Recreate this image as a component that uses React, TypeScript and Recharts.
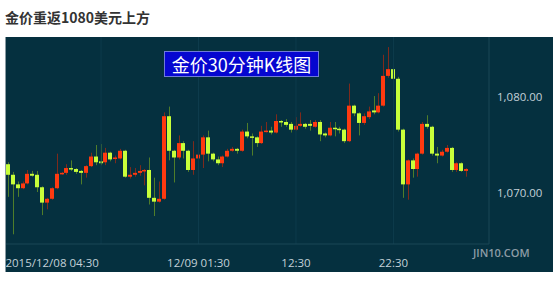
import React from "react";
import { ComposedChart, Bar, XAxis, YAxis, ReferenceLine } from "recharts";

// 30-minute gold candles
const opens = [
  1073.0, 1071.9, 1070.9, 1070.5, 1071.0, 1072.0, 1071.9, 1070.6, 1069.0, 1069.4,
  1070.5, 1072.0, 1072.1, 1072.6, 1072.5, 1072.3, 1072.1, 1072.8, 1073.8, 1073.3,
  1073.2, 1074.2, 1073.6, 1073.6, 1074.4, 1071.7, 1071.9, 1072.1, 1072.3, 1072.4,
  1069.5, 1069.1, 1069.4, 1078.0, 1074.4, 1073.7, 1075.2, 1074.4, 1072.4, 1073.6,
  1074.0, 1075.8, 1074.1, 1073.5, 1073.1, 1073.8, 1074.4, 1074.6, 1074.4, 1076.4,
  1075.9, 1075.8, 1075.2, 1076.4, 1076.5, 1076.3, 1077.5, 1077.4, 1077.2, 1076.6,
  1077.0, 1077.2, 1077.2, 1076.9, 1077.4, 1076.2, 1076.0, 1076.8, 1076.7, 1076.6,
  1075.4, 1079.1, 1078.3, 1077.3, 1077.9, 1078.6, 1078.4, 1079.1, 1082.2, 1082.9,
  1081.9, 1076.6, 1070.9, 1073.4, 1072.5, 1074.1, 1077.2, 1076.9, 1074.1, 1073.9,
  1074.3, 1074.7, 1072.4, 1073.1, 1072.3,
];
const highs = [
  1073.2, 1072.2, 1071.2, 1071.2, 1072.4, 1072.3, 1072.3, 1070.7, 1069.5, 1070.6,
  1074.1, 1072.2, 1073.0, 1073.4, 1072.6, 1072.4, 1072.9, 1074.2, 1075.0, 1075.1,
  1074.7, 1074.3, 1073.9, 1074.6, 1074.5, 1072.7, 1072.6, 1072.9, 1072.5, 1073.7,
  1071.6, 1071.2, 1078.4, 1079.0, 1074.5, 1076.0, 1075.4, 1074.5, 1075.4, 1074.3,
  1076.0, 1076.5, 1074.2, 1073.8, 1073.9, 1074.6, 1074.8, 1074.7, 1076.6, 1077.3,
  1076.2, 1075.9, 1077.0, 1077.4, 1076.9, 1078.2, 1077.6, 1077.7, 1077.4, 1077.9,
  1078.4, 1077.3, 1077.6, 1077.6, 1077.6, 1076.3, 1077.4, 1077.4, 1076.9, 1076.7,
  1081.4, 1079.2, 1078.4, 1078.3, 1079.0, 1080.1, 1080.4, 1084.4, 1085.2, 1083.0,
  1082.1, 1076.7, 1073.5, 1073.6, 1074.2, 1077.4, 1078.1, 1077.0, 1074.8, 1074.5,
  1075.0, 1074.8, 1073.2, 1073.2, 1072.6,
];
const lows = [
  1069.6, 1065.7, 1069.6, 1070.4, 1070.9, 1071.7, 1070.1, 1067.7, 1068.3, 1069.3,
  1070.4, 1071.9, 1071.9, 1072.3, 1072.0, 1070.9, 1071.6, 1072.7, 1072.9, 1072.9,
  1072.9, 1073.3, 1073.1, 1073.5, 1071.6, 1071.5, 1071.7, 1071.8, 1070.8, 1068.8,
  1067.6, 1069.0, 1069.3, 1073.4, 1071.1, 1073.5, 1073.6, 1072.2, 1071.9, 1072.6,
  1072.6, 1073.3, 1073.3, 1072.9, 1072.7, 1073.7, 1074.3, 1074.1, 1074.3, 1075.7,
  1073.9, 1074.8, 1075.1, 1076.3, 1076.1, 1076.2, 1076.9, 1076.9, 1076.3, 1076.5,
  1076.9, 1076.7, 1076.5, 1076.8, 1075.4, 1075.8, 1075.9, 1075.9, 1076.2, 1075.2,
  1075.3, 1078.0, 1076.0, 1077.1, 1077.7, 1078.2, 1078.3, 1079.0, 1082.0, 1080.0,
  1076.4, 1069.5, 1069.3, 1071.6, 1071.7, 1074.0, 1076.7, 1073.9, 1073.1, 1073.8,
  1074.2, 1072.2, 1072.2, 1072.2, 1071.7,
];
const closes = [
  1071.9, 1070.9, 1070.5, 1071.0, 1072.0, 1071.8, 1070.6, 1069.0, 1069.4, 1070.5,
  1072.0, 1072.1, 1072.6, 1072.5, 1072.2, 1072.1, 1072.8, 1073.8, 1073.2, 1073.1,
  1074.2, 1073.5, 1073.7, 1074.4, 1071.7, 1071.9, 1072.1, 1072.3, 1072.4, 1069.5,
  1069.1, 1069.4, 1078.0, 1074.4, 1073.7, 1075.2, 1074.4, 1072.4, 1073.6, 1074.0,
  1075.8, 1074.1, 1073.5, 1073.1, 1073.8, 1074.4, 1074.6, 1074.4, 1076.4, 1075.9,
  1075.8, 1075.2, 1076.4, 1076.5, 1076.3, 1077.5, 1077.4, 1077.1, 1076.6, 1077.0,
  1077.2, 1076.9, 1077.0, 1077.4, 1076.1, 1076.0, 1076.8, 1076.7, 1076.6, 1075.4,
  1079.1, 1078.3, 1077.3, 1078.0, 1078.5, 1078.4, 1079.1, 1082.2, 1082.9, 1081.9,
  1076.6, 1070.9, 1073.4, 1072.5, 1074.1, 1077.2, 1076.9, 1074.1, 1073.9, 1074.3,
  1074.7, 1072.4, 1073.1, 1072.3, 1072.5,
];

const xTickIdx = [0, 39, 59, 79];
const xTickLabels = ["2015/12/08 04:30", "12/09 01:30", "12:30", "22:30"];
const gridIdx = [19, 39, 59, 79];
const yTicks = [1070, 1080];

const data = opens.map((o, i) => ({
  i,
  open: o,
  high: highs[i],
  low: lows[i],
  close: closes[i],
}));

const BG = "#05303f";
const UP = "#ff3a10";
const DOWN = "#c8ff3a";
const UP_WICK = "#7e2a1c";
const DOWN_WICK = "#4f7d2a";
const AXIS_TEXT = "#c3d0d8";
const FONT = "'Open Sans', 'Noto Sans', sans-serif";

function Candle(props: any) {
  const { x, y, width, height, payload } = props;
  if (!payload || height == null) return null;
  const { open, close, high, low } = payload;
  const ratio = height / (high - low);
  const yOf = (p: number) => y + (high - p) * ratio;
  const up = close >= open;
  const cx = Math.round(x + width / 2) + 0.5;
  const top = yOf(Math.max(open, close));
  const bot = yOf(Math.min(open, close));
  return (
    <g>
      <line x1={cx} x2={cx} y1={y} y2={y + height} stroke={up ? UP_WICK : DOWN_WICK} strokeWidth={1} />
      <rect
        x={cx - 2.5}
        y={top}
        width={4}
        height={Math.max(1.5, bot - top)}
        fill={up ? UP : DOWN}
      />
    </g>
  );
}

function XTick(props: any) {
  const { x, y, payload } = props;
  const k = xTickIdx.indexOf(payload.value);
  const first = k === 0;
  return (
    <text
      x={first ? x - 3 : x}
      y={y}
      dy={15}
      textAnchor={first ? "start" : "middle"}
      fill={AXIS_TEXT}
      fontSize={11.5}
      fontFamily={FONT}
    >
      {xTickLabels[k]}
    </text>
  );
}

export default function App() {
  return (
    <div style={{ position: "absolute", left: 0, top: 0, width: 554, height: 283, background: "#fff" }}>
      <div
        style={{
          position: "absolute",
          left: 5,
          top: 7,
          fontFamily: "'Noto Sans CJK SC', sans-serif",
          fontWeight: 700,
          fontSize: 14,
          color: "#333",
        }}
      >
        金价重返1080美元上方
      </div>
      <div
        style={{
          position: "absolute",
          left: 5,
          top: 37,
          width: 547,
          height: 235,
          background: BG,
          borderLeft: "1px solid #8a9ba3",
        }}
      >
        <ComposedChart
          width={547}
          height={235}
          data={data}
          margin={{ top: 0, right: 0, left: 0, bottom: 0 }}
        >
          {gridIdx.map((g) => (
            <ReferenceLine key={g} x={g} stroke="#0d3b4c" strokeWidth={1} />
          ))}
          <XAxis
            dataKey="i"
            type="category"
            ticks={xTickIdx}
            interval={0}
            height={28}
            padding={{ left: 0, right: 20 }}
            axisLine={{ stroke: "#1a4757" }}
            tickLine={false}
            tick={<XTick />}
          />
          <YAxis
            orientation="right"
            type="number"
            domain={[1064.69, 1086.25]}
            allowDataOverflow
            ticks={yTicks}
            width={64}
            axisLine={{ stroke: "#1a4757" }}
            tickLine={false}
            tick={{ fill: AXIS_TEXT, fontSize: 11.5, fontFamily: FONT }}
            tickFormatter={(v: number) =>
              v.toLocaleString("en-US", { minimumFractionDigits: 2, maximumFractionDigits: 2 })
            }
          />
          <Bar
            dataKey={(d: any) => [d.low, d.high]}
            shape={<Candle />}
            barSize={4}
            isAnimationActive={false}
          />
        </ComposedChart>
        <div
          style={{
            position: "absolute",
            left: 158,
            top: 14,
            width: 153,
            height: 24,
            background: "#0606d0",
            border: "1px solid #6f7ad8",
            color: "#fff",
            fontFamily: "'Noto Sans CJK SC', sans-serif",
            fontSize: 18,
            lineHeight: "24px",
            textAlign: "center",
          }}
        >
          金价30分钟K线图
        </div>
        <div
          style={{
            position: "absolute",
            left: 467,
            top: 208,
            color: "#8d9ca6",
            fontFamily: FONT,
            fontWeight: 600,
            fontSize: 11,
          }}
        >
          JIN10.COM
        </div>
      </div>
    </div>
  );
}
